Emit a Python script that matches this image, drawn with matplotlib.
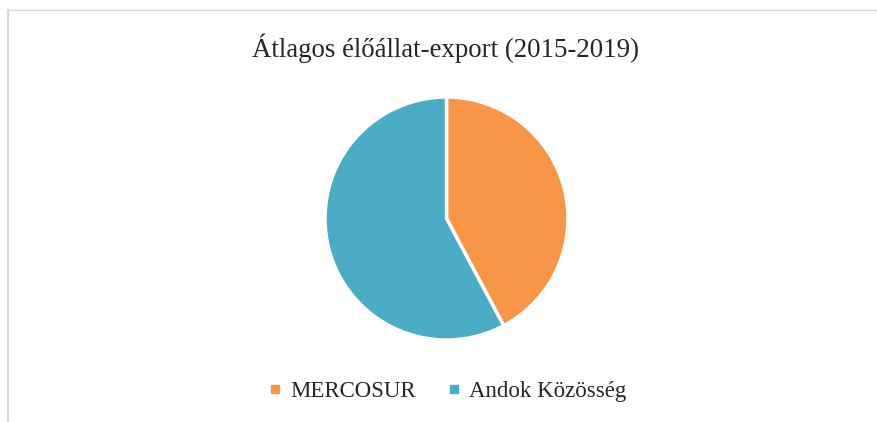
import matplotlib.pyplot as plt
from matplotlib.lines import Line2D

labels = ['MERCOSUR', 'Andok Közösség']
values = [42.2, 57.8]
colors = ['#F79646', '#4BACC6']
title = 'Átlagos élőállat-export (2015-2019)'

plt.rcParams['font.family'] = ['Liberation Serif', 'DejaVu Serif']

fig = plt.figure(figsize=(8.77, 4.22), dpi=100)
W, H = 877, 422

# pie, center ~ (446, 219), radius ~ 121 px
r = 121.5
cx, cy = 446.5, 218.5
ax = fig.add_axes([(cx - r) / W, 1 - (cy + r) / H, 2 * r / W, 2 * r / H])
ax.pie(values, colors=colors, startangle=90, counterclock=False,
       wedgeprops=dict(edgecolor='white', linewidth=2.5), radius=1)
ax.set_xlim(-1, 1)
ax.set_ylim(-1, 1)
ax.set_aspect('equal')

fig.text(445 / W, 1 - 48 / H, title, ha='center', va='center',
         fontsize=19.4, color='#262626')

# chart area border (top and left)
fig.add_artist(Line2D([8 / W, 8 / W], [0, 1 - 10 / H], transform=fig.transFigure,
                      color='#D9D9D9', linewidth=1.5))
fig.add_artist(Line2D([8 / W, 1], [1 - 10 / H, 1 - 10 / H], transform=fig.transFigure,
                      color='#D9D9D9', linewidth=1.0))

handles = [Line2D([0], [0], marker='s', linestyle='', markersize=6,
                  markerfacecolor=c, markeredgecolor=c) for c in colors]
fig.legend(handles, labels, loc='center', bbox_to_anchor=(447 / W, 1 - 391 / H),
           ncol=2, frameon=False, fontsize=16.5, handlelength=0.6,
           handletextpad=0.35, columnspacing=1.36, labelcolor='#262626')

fig.savefig('out.png', dpi=100, facecolor='white')
